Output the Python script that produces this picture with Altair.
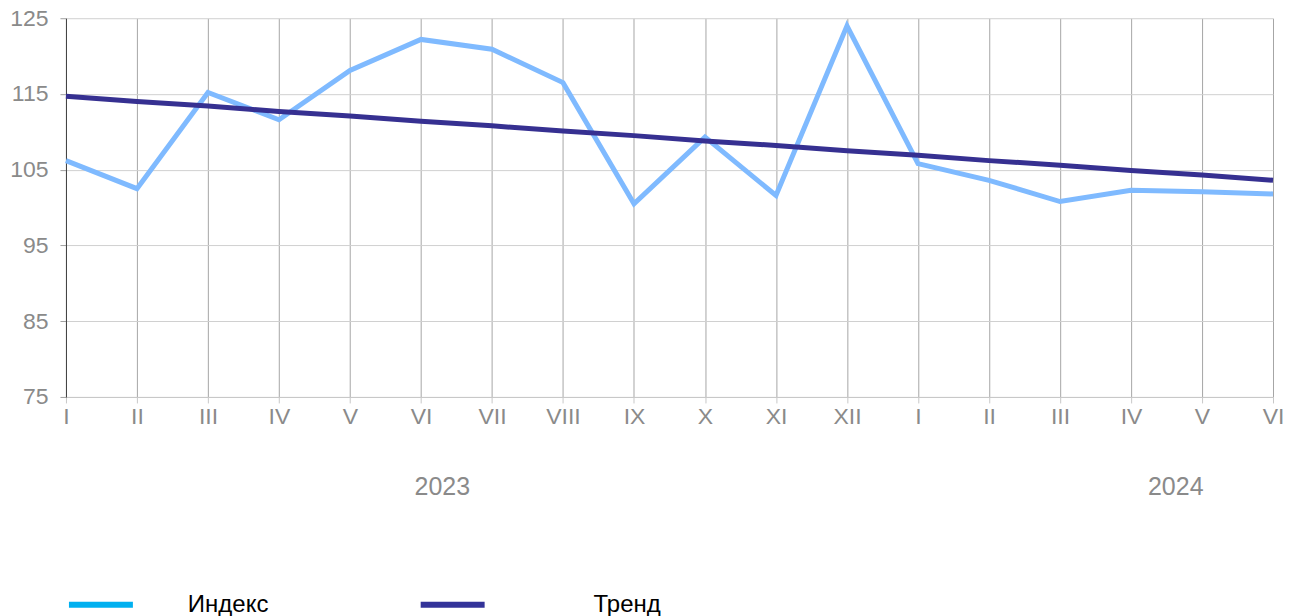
import altair as alt
import pandas as pd

months = ["I", "II", "III", "IV", "V", "VI", "VII", "VIII", "IX", "X", "XI", "XII",
          "I", "II", "III", "IV", "V", "VI"]
index_vals = [106.2, 102.5, 115.2, 111.6, 118.1, 122.2, 120.9, 116.5, 100.5, 109.3,
              101.6, 124.0, 105.8, 103.6, 100.8, 102.3, 102.1, 101.8]
trend_vals = [114.7, 114.0, 113.4, 112.7, 112.1, 111.4, 110.8, 110.1, 109.5, 108.8,
              108.2, 107.5, 106.9, 106.2, 105.6, 104.9, 104.3, 103.6]
years = ["2023", "2024"]
year_pos = [5.3, 15.63]
y_ticks = [75, 85, 95, 105, 115, 125]

df = pd.DataFrame({"i": list(range(len(months))), "m": months,
                   "idx": index_vals, "trd": trend_vals})
ydf = pd.DataFrame({"year": years, "p": year_pos})

label_expr = "[" + ",".join("'%s'" % m for m in months) + "][datum.value]"
FONT = "Liberation Sans"

x_enc = alt.X("i:Q",
              scale=alt.Scale(domain=[0, len(months) - 1], nice=False, zero=False),
              axis=alt.Axis(values=list(range(len(months))), labelExpr=label_expr,
                            grid=True, gridColor="#a6a6a6", gridWidth=1,
                            domainColor="#c8c8c8", tickColor="#c8c8c8", tickSize=6,
                            labelFontSize=23, labelColor="#8a8a8a", labelFont=FONT,
                            labelPadding=3, labelFlush=False, labelOverlap=False,
                            title=None))
y_scale = alt.Scale(domain=[75, 125], nice=False, zero=False)
y_axis = alt.Axis(values=y_ticks, grid=True, gridColor="#d0d0d0", gridWidth=1,
                  domainColor="#404040", tickColor="#a0a0a0", tickSize=6,
                  labelFontSize=23, labelColor="#8a8a8a", labelFont=FONT,
                  labelPadding=12, labelFlush=False, title=None)

base = alt.Chart(df)

index_line = base.mark_line(color="#7FBAFF", strokeWidth=5).encode(
    x=x_enc, y=alt.Y("idx:Q", scale=y_scale, axis=y_axis))
trend_line = base.mark_line(color="#363091", strokeWidth=5).encode(
    x=alt.X("i:Q"), y=alt.Y("trd:Q"))

def leg(x, offset):
    return alt.Legend(orient="none", legendX=x, legendY=552, title=None,
                      symbolType="stroke", symbolSize=4096, symbolStrokeWidth=6,
                      symbolOpacity=1, labelFontSize=24, labelColor="#000000",
                      labelFont=FONT, labelOffset=offset, padding=0)

leg_index = base.mark_line(opacity=0).encode(
    x=alt.X("i:Q"), y=alt.Y("idx:Q"),
    color=alt.Color("s:N", scale=alt.Scale(domain=["Индекс"], range=["#00B0F0"]),
                    legend=leg(0, 52))
).transform_calculate(s="'Индекс'")
leg_trend = base.mark_line(opacity=0).encode(
    x=alt.X("i:Q"), y=alt.Y("trd:Q"),
    stroke=alt.Stroke("s:N", scale=alt.Scale(domain=["Тренд"], range=["#333399"]),
                      legend=leg(352, 106))
).transform_calculate(s="'Тренд'")

year_text = alt.Chart(ydf).mark_text(fontSize=25, color="#8a8a8a", font=FONT,
                                      baseline="alphabetic", align="center").encode(
    x=alt.X("p:Q"), y=alt.value(477), text="year:N")

chart = alt.layer(index_line, trend_line, leg_index, leg_trend, year_text).properties(
    width=1208, height=379,
    autosize=alt.AutoSizeParams(type="none"),
    padding={"left": 58, "top": 10, "right": 20, "bottom": 230},
).configure_view(stroke=None)

chart.save("out.html", embed_options={"renderer": "svg", "actions": False})
